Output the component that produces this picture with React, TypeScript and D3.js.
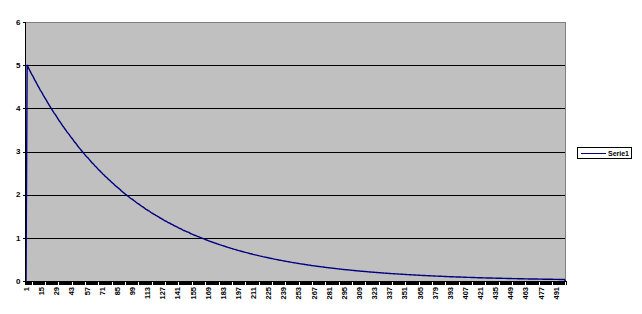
import React from "react";
import * as d3 from "d3";

// Serie1 values, one per category (categories 1..500)
const serie1: number[] = [
  0,
  5.00, 4.95, 4.90, 4.85, 4.80, 4.76, 4.71, 4.66, 4.62, 4.57,
  4.52, 4.48, 4.43, 4.39, 4.35, 4.30, 4.26, 4.22, 4.18, 4.13,
  4.09, 4.05, 4.01, 3.97, 3.93, 3.89, 3.86, 3.82, 3.78, 3.74,
  3.70, 3.67, 3.63, 3.59, 3.56, 3.52, 3.49, 3.45, 3.42, 3.39,
  3.35, 3.32, 3.29, 3.25, 3.22, 3.19, 3.16, 3.12, 3.09, 3.06,
  3.03, 3.00, 2.97, 2.94, 2.91, 2.88, 2.86, 2.83, 2.80, 2.77,
  2.74, 2.72, 2.69, 2.66, 2.64, 2.61, 2.58, 2.56, 2.53, 2.51,
  2.48, 2.46, 2.43, 2.41, 2.39, 2.36, 2.34, 2.32, 2.29, 2.27,
  2.25, 2.22, 2.20, 2.18, 2.16, 2.14, 2.12, 2.09, 2.07, 2.05,
  2.03, 2.01, 1.99, 1.97, 1.95, 1.93, 1.91, 1.90, 1.88, 1.86,
  1.84, 1.82, 1.80, 1.79, 1.77, 1.75, 1.73, 1.72, 1.70, 1.68,
  1.66, 1.65, 1.63, 1.62, 1.60, 1.58, 1.57, 1.55, 1.54, 1.52,
  1.51, 1.49, 1.48, 1.46, 1.45, 1.43, 1.42, 1.40, 1.39, 1.38,
  1.36, 1.35, 1.34, 1.32, 1.31, 1.30, 1.28, 1.27, 1.26, 1.25,
  1.23, 1.22, 1.21, 1.20, 1.18, 1.17, 1.16, 1.15, 1.14, 1.13,
  1.12, 1.10, 1.09, 1.08, 1.07, 1.06, 1.05, 1.04, 1.03, 1.02,
  1.01, 1.00, 0.99, 0.98, 0.97, 0.96, 0.95, 0.94, 0.93, 0.92,
  0.913, 0.904, 0.895, 0.886, 0.878, 0.869, 0.860, 0.852, 0.843, 0.835,
  0.826, 0.818, 0.810, 0.802, 0.794, 0.786, 0.778, 0.771, 0.763, 0.755,
  0.748, 0.740, 0.733, 0.726, 0.719, 0.711, 0.704, 0.697, 0.690, 0.683,
  0.677, 0.670, 0.663, 0.657, 0.650, 0.644, 0.637, 0.631, 0.625, 0.618,
  0.612, 0.606, 0.600, 0.594, 0.588, 0.582, 0.577, 0.571, 0.565, 0.560,
  0.554, 0.549, 0.543, 0.538, 0.532, 0.527, 0.522, 0.517, 0.511, 0.506,
  0.501, 0.496, 0.491, 0.486, 0.482, 0.477, 0.472, 0.467, 0.463, 0.458,
  0.454, 0.449, 0.445, 0.440, 0.436, 0.431, 0.427, 0.423, 0.419, 0.415,
  0.410, 0.406, 0.402, 0.398, 0.394, 0.390, 0.387, 0.383, 0.379, 0.375,
  0.371, 0.368, 0.364, 0.360, 0.357, 0.353, 0.350, 0.346, 0.343, 0.339,
  0.336, 0.333, 0.329, 0.326, 0.323, 0.320, 0.316, 0.313, 0.310, 0.307,
  0.304, 0.301, 0.298, 0.295, 0.292, 0.289, 0.286, 0.283, 0.281, 0.278,
  0.275, 0.272, 0.270, 0.267, 0.264, 0.262, 0.259, 0.257, 0.254, 0.251,
  0.249, 0.246, 0.244, 0.242, 0.239, 0.237, 0.234, 0.232, 0.230, 0.227,
  0.225, 0.223, 0.221, 0.219, 0.216, 0.214, 0.212, 0.210, 0.208, 0.206,
  0.204, 0.202, 0.200, 0.198, 0.196, 0.194, 0.192, 0.190, 0.188, 0.186,
  0.184, 0.183, 0.181, 0.179, 0.177, 0.175, 0.174, 0.172, 0.170, 0.169,
  0.167, 0.165, 0.164, 0.162, 0.160, 0.159, 0.157, 0.156, 0.154, 0.153,
  0.151, 0.149, 0.148, 0.147, 0.145, 0.144, 0.142, 0.141, 0.139, 0.138,
  0.137, 0.135, 0.134, 0.133, 0.131, 0.130, 0.129, 0.127, 0.126, 0.125,
  0.124, 0.122, 0.121, 0.120, 0.119, 0.118, 0.116, 0.115, 0.114, 0.113,
  0.112, 0.111, 0.110, 0.109, 0.107, 0.106, 0.105, 0.104, 0.103, 0.102,
  0.101, 0.100, 0.099, 0.098, 0.097, 0.096, 0.095, 0.094, 0.093, 0.092,
  0.092, 0.091, 0.090, 0.089, 0.088, 0.087, 0.086, 0.085, 0.085, 0.084,
  0.083, 0.082, 0.081, 0.080, 0.080, 0.079, 0.078, 0.077, 0.076, 0.076,
  0.075, 0.074, 0.073, 0.073, 0.072, 0.071, 0.071, 0.070, 0.069, 0.069,
  0.068, 0.067, 0.066, 0.066, 0.065, 0.065, 0.064, 0.063, 0.063, 0.062,
  0.061, 0.061, 0.060, 0.060, 0.059, 0.058, 0.058, 0.057, 0.057, 0.056,
  0.056, 0.055, 0.054, 0.054, 0.053, 0.053, 0.052, 0.052, 0.051, 0.051,
  0.050, 0.050, 0.049, 0.049, 0.048, 0.048, 0.047, 0.047, 0.046, 0.046,
  0.045, 0.045, 0.045, 0.044, 0.044, 0.043, 0.043, 0.042, 0.042, 0.042,
  0.041, 0.041, 0.040, 0.040, 0.040, 0.039, 0.039, 0.038, 0.038, 0.038,
  0.037, 0.037, 0.036, 0.036, 0.036, 0.035, 0.035, 0.035,
  0,
];

const categories: number[] = serie1.map((_, i) => i + 1);

const xTickLabels: number[] = [
  1, 15, 29, 43, 57, 71, 85, 99, 113, 127, 141, 155, 169, 183, 197, 211, 225,
  239, 253, 267, 281, 295, 309, 323, 337, 351, 365, 379, 393, 407, 421, 435,
  449, 463, 477, 491,
];

const yTicks: number[] = [0, 1, 2, 3, 4, 5, 6];
const seriesName = "Serie1";

const W = 642;
const H = 314;
const plot = { left: 25.5, right: 566, top: 22, bottom: 281 };
const font = "Arial, 'Liberation Sans', sans-serif";

export default function App() {
  const x = d3
    .scaleBand<number>()
    .domain(categories)
    .range([plot.left, plot.right])
    .paddingInner(0)
    .paddingOuter(0);
  const y = d3.scaleLinear().domain([0, 6]).range([plot.bottom, plot.top]);

  const line = d3
    .line<number>()
    .x((_, i) => (x(categories[i]) as number) + x.bandwidth() / 2)
    .y((d) => y(d));

  const tickXs = d3.range(categories.length + 1).map((i) =>
    i < categories.length ? (x(categories[i]) as number) : plot.right
  );

  return (
    <div style={{ position: "fixed", left: 0, top: 0 }}>
      <svg width={W} height={H} style={{ display: "block", background: "#fff" }}>
        <rect
          x={plot.left}
          y={plot.top}
          width={plot.right - plot.left}
          height={plot.bottom - plot.top}
          fill="#c0c0c0"
        />
        {yTicks
          .filter((t) => t > 0 && t < 6)
          .map((t) => (
            <line
              key={"g" + t}
              x1={plot.left}
              x2={plot.right}
              y1={Math.round(y(t)) + 0.5}
              y2={Math.round(y(t)) + 0.5}
              stroke="#000"
              strokeWidth={1}
              shapeRendering="crispEdges"
            />
          ))}
        <line
          x1={plot.left}
          x2={plot.right}
          y1={plot.top + 0.5}
          y2={plot.top + 0.5}
          stroke="#808080"
          shapeRendering="crispEdges"
        />
        <line
          x1={plot.right - 0.5}
          x2={plot.right - 0.5}
          y1={plot.top}
          y2={plot.bottom}
          stroke="#808080"
          shapeRendering="crispEdges"
        />
        <path
          d={line(serie1) || ""}
          fill="none"
          stroke="#000080"
          strokeWidth={1.4}
          strokeLinejoin="round"
        />
        <line
          x1={plot.left}
          x2={plot.left}
          y1={plot.top}
          y2={plot.bottom + 3}
          stroke="#000"
          strokeWidth={1}
          shapeRendering="crispEdges"
        />
        {yTicks.map((t) => (
          <g key={"y" + t}>
            <line
              x1={plot.left - 3}
              x2={plot.left}
              y1={Math.round(y(t)) + 0.5}
              y2={Math.round(y(t)) + 0.5}
              stroke="#000"
              shapeRendering="crispEdges"
            />
            <text
              x={plot.left - 5}
              y={y(t)}
              dy="0.35em"
              textAnchor="end"
              fontFamily={font}
              fontWeight="bold"
              fontSize={8}
              fill="#000"
            >
              {t}
            </text>
          </g>
        ))}
        <line
          x1={plot.left}
          x2={plot.right}
          y1={plot.bottom + 0.5}
          y2={plot.bottom + 0.5}
          stroke="#000"
          shapeRendering="crispEdges"
        />
        {tickXs.map((tx, i) => (
          <line
            key={"t" + i}
            x1={Math.floor(tx) + 0.5}
            x2={Math.floor(tx) + 0.5}
            y1={plot.bottom}
            y2={plot.bottom + 3.5}
            stroke="#000"
            shapeRendering="crispEdges"
          />
        ))}
        {xTickLabels.map((c) => {
          const cx = (x(c) as number) + x.bandwidth() / 2;
          return (
            <text
              key={"x" + c}
              transform={`translate(${cx + 3},${plot.bottom + 6}) rotate(-90)`}
              textAnchor="end"
              fontFamily={font}
              fontWeight="bold"
              fontSize={7.5}
              fill="#000"
            >
              {c}
            </text>
          );
        })}
        <rect
          x={577.5}
          y={147.5}
          width={54}
          height={11}
          fill="#fff"
          stroke="#000"
          strokeWidth={1}
          shapeRendering="crispEdges"
        />
        <line
          x1={581}
          x2={606}
          y1={153.5}
          y2={153.5}
          stroke="#000080"
          strokeWidth={1}
          shapeRendering="crispEdges"
        />
        <text
          x={608}
          y={153.5}
          dy="0.35em"
          fontFamily={font}
          fontWeight="bold"
          fontSize={7}
          fill="#000"
        >
          {seriesName}
        </text>
      </svg>
    </div>
  );
}
